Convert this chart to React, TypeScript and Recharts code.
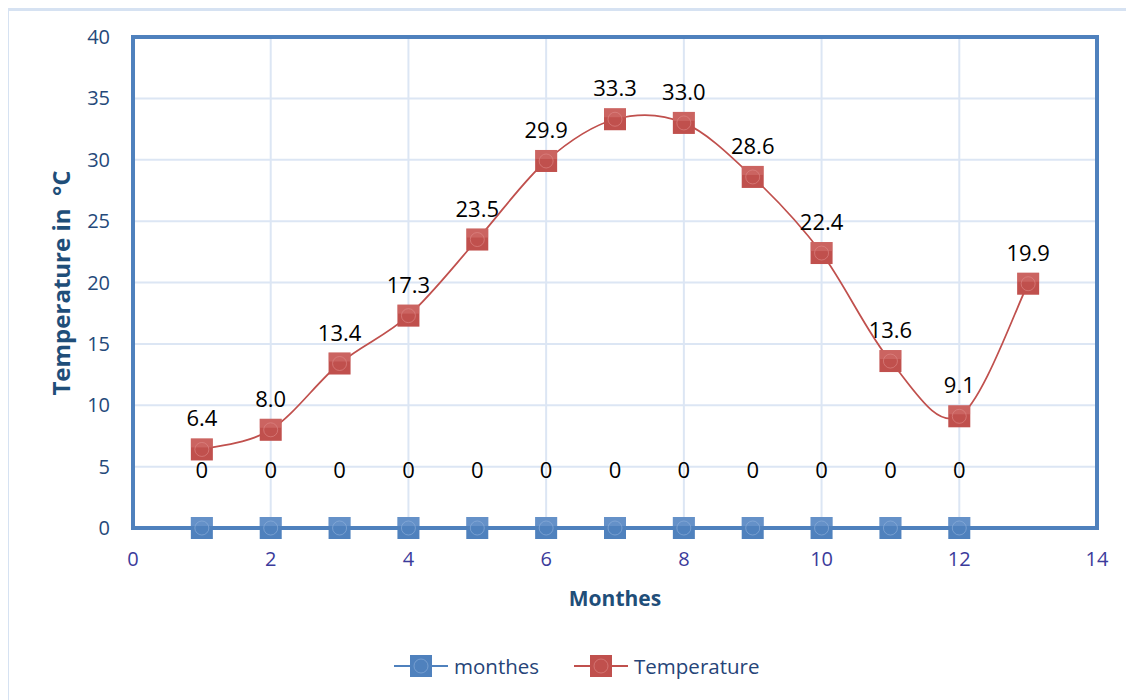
import React from "react";
import {
  LineChart,
  Line,
  XAxis,
  YAxis,
  CartesianGrid,
  ReferenceArea
} from "recharts";

const MONTH_X = [1, 2, 3, 4, 5, 6, 7, 8, 9, 10, 11, 12];
const MONTHES_VALUES = [0, 0, 0, 0, 0, 0, 0, 0, 0, 0, 0, 0];
const TEMP_X = [1, 2, 3, 4, 5, 6, 7, 8, 9, 10, 11, 12, 13];
const TEMPERATURES = [6.4, 8.0, 13.4, 17.3, 23.5, 29.9, 33.3, 33.0, 28.6, 22.4, 13.6, 9.1, 19.9];
const X_TICKS = [0, 2, 4, 6, 8, 10, 12, 14];
const Y_TICKS = [0, 5, 10, 15, 20, 25, 30, 35, 40];

const monthesData = MONTH_X.map((x, i) => ({ x, y: MONTHES_VALUES[i] }));
const tempData = TEMP_X.map((x, i) => ({ x, y: TEMPERATURES[i] }));

const FONT = "'Open Sans', 'Liberation Sans', sans-serif";
const BLUE = "#4f81bd";
const RED = "#c0504d";
const TITLE = "#1f4e79";

// Excel-like smoothed line (Catmull-Rom through the points)
function smoothCurve(context: any) {
  let pts: [number, number][] = [];
  return {
    areaStart() {},
    areaEnd() {},
    lineStart() {
      pts = [];
    },
    point(x: number, y: number) {
      pts.push([+x, +y]);
    },
    lineEnd() {
      const n = pts.length;
      if (!n) return;
      context.moveTo(pts[0][0], pts[0][1]);
      for (let i = 0; i < n - 1; i++) {
        const p0 = pts[Math.max(i - 1, 0)];
        const p1 = pts[i];
        const p2 = pts[i + 1];
        const p3 = pts[Math.min(i + 2, n - 1)];
        context.bezierCurveTo(
          p1[0] + (p2[0] - p0[0]) / 6,
          p1[1] + (p2[1] - p0[1]) / 6,
          p2[0] - (p3[0] - p1[0]) / 6,
          p2[1] - (p3[1] - p1[1]) / 6,
          p2[0],
          p2[1]
        );
      }
    }
  };
}

const SquareDot = (color: string, light: string) => (props: any) => {
  const { cx, cy, index } = props;
  if (cx == null || cy == null) return null;
  return (
    <g key={index}>
      <rect x={cx - 11} y={cy - 11} width={22} height={22} fill={color} />
      <rect x={cx - 11} y={cy - 11} width={22} height={9} fill={light} opacity={0.35} />
      <circle cx={cx} cy={cy} r={7} fill="none" stroke={light} strokeWidth={1} opacity={0.6} />
    </g>
  );
};

const makeLabel = (above: number, fmt: (v: number) => string) => (props: any) => {
  const { x, y, value, index } = props;
  return (
    <text
      key={index}
      x={x}
      y={y - above}
      textAnchor="middle"
      dominantBaseline="central"
      fontFamily={FONT}
      fontSize={22}
      fill="#000"
    >
      {fmt(Number(value))}
    </text>
  );
};

const LegendItem = ({ color, light, text }: { color: string; light: string; text: string }) => (
  <div style={{ display: "flex", alignItems: "center" }}>
    <svg width={54} height={24}>
      <line x1={0} y1={12} x2={54} y2={12} stroke={color} strokeWidth={2} />
      <rect x={16} y={1} width={22} height={22} fill={color} />
      <circle cx={27} cy={12} r={7} fill="none" stroke={light} strokeWidth={1} opacity={0.6} />
    </svg>
    <span style={{ marginLeft: 6, fontFamily: FONT, fontSize: 20.5, color: "#264478" }}>{text}</span>
  </div>
);

export default function App() {
  return (
    <div style={{ position: "relative", width: 1126, height: 692, overflow: "hidden" }}>
      <div
        style={{
          position: "absolute",
          left: -2,
          top: 0,
          width: 1160,
          height: 720,
          border: "3px solid #d6e2f2",
          boxSizing: "border-box"
        }}
      />
      <div style={{ position: "absolute", left: 0, top: 0 }}>
        <LineChart
          width={1126}
          height={684}
          margin={{ top: 29, right: 37, left: 0, bottom: 134 }}
        >
          <CartesianGrid stroke="#dce6f4" strokeWidth={2} vertical horizontal />
          <XAxis
            dataKey="x"
            type="number"
            domain={[0, 14]}
            ticks={X_TICKS}
            allowDataOverflow
            height={30}
            tickSize={0}
            tickMargin={24}
            axisLine={false}
            tick={{ fill: "#3b3b9b", fontSize: 20, fontFamily: FONT }}
          />
          <YAxis
            type="number"
            domain={[0, 40]}
            ticks={Y_TICKS}
            width={125}
            tickSize={0}
            tickMargin={23}
            axisLine={false}
            tick={{ fill: "#25497a", fontSize: 20, fontFamily: FONT }}
          />
          <ReferenceArea
            x1={0}
            x2={14}
            y1={0}
            y2={40}
            fill="none"
            stroke={BLUE}
            strokeWidth={4}
            ifOverflow="visible"
          />
          <Line
            data={monthesData}
            dataKey="y"
            name="monthes"
            type={smoothCurve as any}
            stroke={BLUE}
            strokeWidth={2}
            dot={SquareDot(BLUE, "#8fb0dc")}
            activeDot={false}
            label={makeLabel(59, (v) => String(v))}
            isAnimationActive={false}
          />
          <Line
            data={tempData}
            dataKey="y"
            name="Temperature"
            type={smoothCurve as any}
            stroke={RED}
            strokeWidth={1.75}
            dot={SquareDot(RED, "#e08a88")}
            activeDot={false}
            label={makeLabel(32, (v) => v.toFixed(1))}
            isAnimationActive={false}
          />
        </LineChart>
      </div>
      <div
        style={{
          position: "absolute",
          left: 52,
          top: 275,
          transform: "translate(-50%, -50%) rotate(-90deg)",
          whiteSpace: "pre",
          fontFamily: FONT,
          fontWeight: 700,
          fontSize: 24,
          color: TITLE
        }}
      >
        {"Temperature in  °C"}
      </div>
      <div
        style={{
          position: "absolute",
          left: 607,
          top: 590,
          transform: "translate(-50%, -50%)",
          fontFamily: FONT,
          fontWeight: 700,
          fontSize: 21,
          color: TITLE
        }}
      >
        Monthes
      </div>
      <div
        style={{
          position: "absolute",
          left: 386,
          top: 658,
          transform: "translateY(-50%)",
          display: "flex",
          gap: 35
        }}
      >
        <LegendItem color={BLUE} light="#8fb0dc" text="monthes" />
        <LegendItem color={RED} light="#e08a88" text="Temperature" />
      </div>
    </div>
  );
}
